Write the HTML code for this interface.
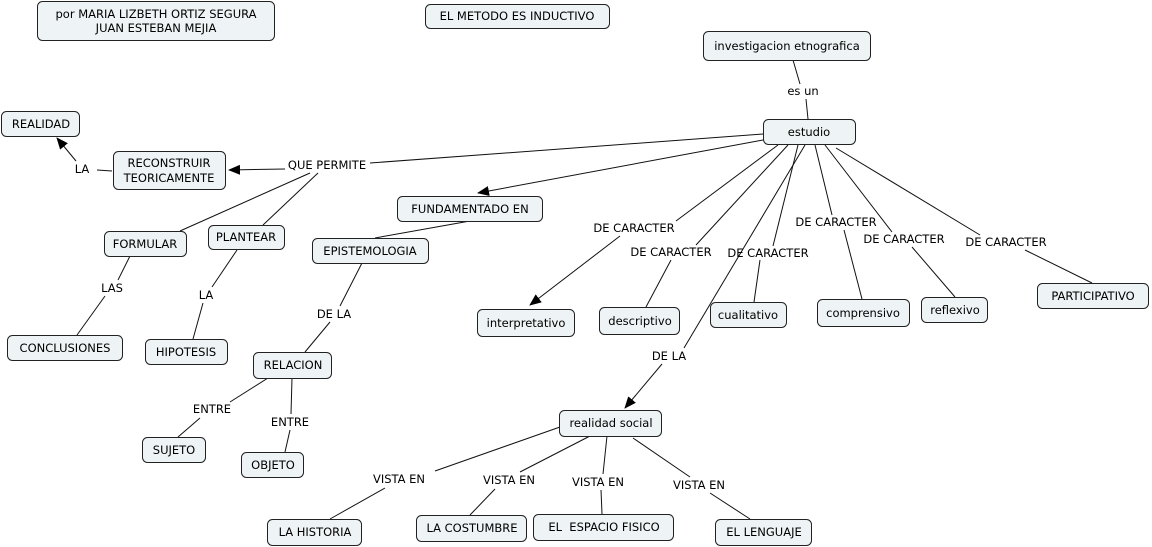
<!DOCTYPE html>
<html><head><meta charset="utf-8"><style>
html,body{margin:0;padding:0;background:#fff;}
svg{display:block;font-family:"DejaVu Sans","Liberation Sans",sans-serif;font-size:11.5px;}
.n{fill:#eef3f5;stroke:#222;stroke-width:1;}
line,polyline{stroke:#111;stroke-width:1;}
text{fill:#000;text-anchor:middle;dominant-baseline:central;}
</style></head><body>
<svg width="1152" height="547" viewBox="0 0 1152 547">
<defs><marker id="a" markerWidth="12" markerHeight="10" refX="11" refY="5" orient="auto" markerUnits="userSpaceOnUse"><path d="M0,0 L12,5 L0,10 z" fill="#000"/></marker></defs>
<!-- lines -->
<line x1="793" y1="60" x2="800" y2="84"/><line x1="806" y1="99" x2="808" y2="119"/>
<line x1="763" y1="134" x2="370" y2="163"/>
<line x1="763" y1="140" x2="478" y2="193" marker-end="url(#a)"/>
<line x1="285" y1="169" x2="229" y2="170" marker-end="url(#a)"/>
<line x1="112" y1="171" x2="97" y2="170"/>
<line x1="76" y1="161" x2="57" y2="138" marker-end="url(#a)"/>
<line x1="310" y1="173" x2="180" y2="231"/><line x1="318" y1="173" x2="263" y2="225"/>
<line x1="130" y1="256" x2="118" y2="280"/><line x1="105" y1="296" x2="77" y2="335"/>
<line x1="237" y1="250" x2="212" y2="287"/><line x1="203" y1="303" x2="193" y2="339"/>
<line x1="470" y1="221" x2="375" y2="238"/>
<line x1="362" y1="263" x2="340" y2="306"/><line x1="330" y1="322" x2="305" y2="352"/>
<line x1="268" y1="378" x2="230" y2="402"/><line x1="200" y1="418" x2="178" y2="437"/>
<line x1="292" y1="378" x2="291" y2="414"/><line x1="290" y1="430" x2="285" y2="452"/>
<line x1="778" y1="145" x2="676" y2="221"/><line x1="620" y1="236" x2="530" y2="305" marker-end="url(#a)"/>
<line x1="788" y1="145" x2="696" y2="245"/><line x1="671" y1="260" x2="646" y2="307"/>
<line x1="798" y1="145" x2="773" y2="246"/><line x1="760" y1="260" x2="754" y2="302"/>
<line x1="815" y1="145" x2="832" y2="215"/><line x1="844" y1="230" x2="862" y2="299"/>
<line x1="825" y1="145" x2="892" y2="232"/><line x1="912" y1="247" x2="955" y2="297"/>
<line x1="836" y1="148" x2="980" y2="235"/><line x1="1025" y1="250" x2="1092" y2="283"/>
<line x1="805" y1="145" x2="684" y2="348"/><line x1="662" y1="364" x2="625" y2="408" marker-end="url(#a)"/>
<line x1="560" y1="427" x2="435" y2="471"/><line x1="385" y1="488" x2="330" y2="519"/>
<line x1="590" y1="436" x2="520" y2="472"/><line x1="495" y1="489" x2="470" y2="515"/>
<line x1="607" y1="436" x2="603" y2="474"/><line x1="601" y1="490" x2="602" y2="514"/>
<line x1="633" y1="438" x2="690" y2="477"/><line x1="710" y1="493" x2="750" y2="519"/>
<!-- labels -->
<g fill="#fff">
</g>
<text x="803" y="91">es un</text>
<text x="82" y="169">LA</text>
<text x="327" y="165">QUE PERMITE</text>
<text x="634" y="228">DE CARACTER</text>
<text x="671" y="252">DE CARACTER</text>
<text x="768" y="253">DE CARACTER</text>
<text x="836" y="222">DE CARACTER</text>
<text x="904" y="239">DE CARACTER</text>
<text x="1006" y="242">DE CARACTER</text>
<text x="112" y="288">LAS</text>
<text x="206" y="295">LA</text>
<text x="334" y="314">DE LA</text>
<text x="669" y="356">DE LA</text>
<text x="212" y="409">ENTRE</text>
<text x="290" y="422">ENTRE</text>
<text x="399" y="479">VISTA EN</text>
<text x="509" y="480">VISTA EN</text>
<text x="598" y="482">VISTA EN</text>
<text x="699" y="485">VISTA EN</text>
<!-- nodes -->
<rect class="n" x="37.5" y="1.5" width="237" height="39" rx="5"/><text x="156" y="14">por  MARIA LIZBETH ORTIZ SEGURA</text><text x="156" y="28">JUAN ESTEBAN MEJIA</text>
<rect class="n" x="425.5" y="4.5" width="184" height="24" rx="5"/><text x="517" y="16">EL METODO ES INDUCTIVO</text>
<rect class="n" x="703.5" y="31.5" width="167" height="29" rx="5"/><text x="787" y="46">investigacion etnografica</text>
<rect class="n" x="763.5" y="119.5" width="92" height="25" rx="5"/><text x="809" y="132">estudio</text>
<rect class="n" x="1.5" y="111.5" width="78" height="25" rx="5"/><text x="41" y="124">REALIDAD</text>
<rect class="n" x="113.5" y="151.5" width="112" height="38" rx="5"/><text x="169" y="163">RECONSTRUIR</text><text x="169" y="178">TEORICAMENTE</text>
<rect class="n" x="397.5" y="196.5" width="145" height="25" rx="5"/><text x="470" y="209">FUNDAMENTADO EN</text>
<rect class="n" x="104.5" y="231.5" width="82" height="25" rx="5"/><text x="145" y="244">FORMULAR</text>
<rect class="n" x="208.5" y="225.5" width="76" height="24" rx="5"/><text x="246" y="237">PLANTEAR</text>
<rect class="n" x="312.5" y="238.5" width="116" height="25" rx="5"/><text x="370" y="251">EPISTEMOLOGIA</text>
<rect class="n" x="7.5" y="335.5" width="115" height="25" rx="5"/><text x="65" y="348">CONCLUSIONES</text>
<rect class="n" x="145.5" y="339.5" width="82" height="25" rx="5"/><text x="186" y="352">HIPOTESIS</text>
<rect class="n" x="477.5" y="309.5" width="97" height="27" rx="5"/><text x="526" y="323">interpretativo</text>
<rect class="n" x="599.5" y="307.5" width="80" height="27" rx="5"/><text x="640" y="321">descriptivo</text>
<rect class="n" x="710.5" y="302.5" width="76" height="25" rx="5"/><text x="748" y="315">cualitativo</text>
<rect class="n" x="817.5" y="299.5" width="92" height="27" rx="5"/><text x="863" y="313">comprensivo</text>
<rect class="n" x="921.5" y="297.5" width="66" height="25" rx="5"/><text x="955" y="310">reflexivo</text>
<rect class="n" x="1037.5" y="283.5" width="111" height="25" rx="5"/><text x="1093" y="296">PARTICIPATIVO</text>
<rect class="n" x="253.5" y="352.5" width="78" height="26" rx="5"/><text x="293" y="365">RELACION</text>
<rect class="n" x="142.5" y="437.5" width="63" height="25" rx="5"/><text x="174" y="450">SUJETO</text>
<rect class="n" x="241.5" y="452.5" width="62" height="25" rx="5"/><text x="273" y="465">OBJETO</text>
<rect class="n" x="559.5" y="410.5" width="102" height="26" rx="5"/><text x="611" y="423">realidad social</text>
<rect class="n" x="267.5" y="519.5" width="94" height="26" rx="5"/><text x="315" y="532">LA HISTORIA</text>
<rect class="n" x="416.5" y="515.5" width="110" height="26" rx="5"/><text x="472" y="528">LA COSTUMBRE</text>
<rect class="n" x="533.5" y="514.5" width="140" height="26" rx="5"/><text x="604" y="527" xml:space="preserve">EL  ESPACIO FISICO</text>
<rect class="n" x="715.5" y="519.5" width="96" height="26" rx="5"/><text x="764" y="532">EL LENGUAJE</text>
</svg>
</body></html>
